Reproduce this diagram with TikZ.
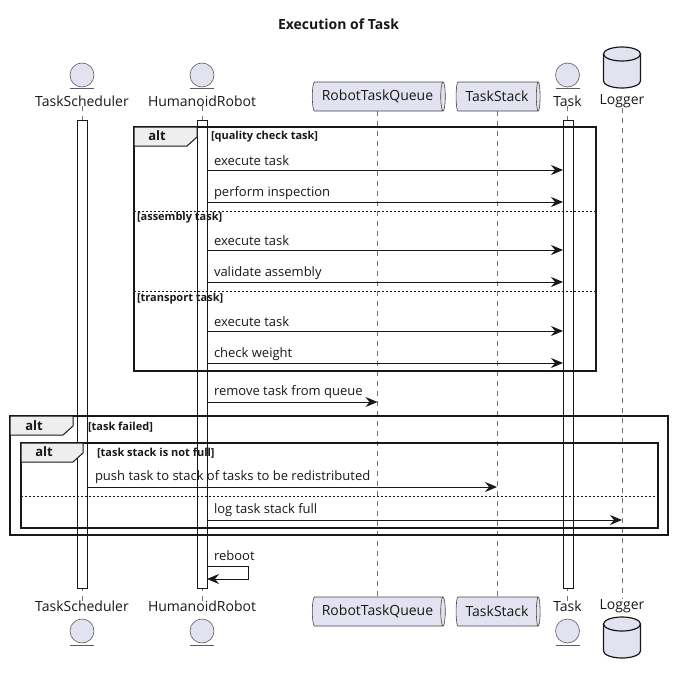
\documentclass[tikz,border=0pt]{standalone}
\usepackage{fontspec}
\setmainfont{Open Sans}
\usetikzlibrary{arrows.meta,shapes.geometric}
\definecolor{pfill}{HTML}{E2E2F0}
\definecolor{ink}{HTML}{181818}
\definecolor{tabfill}{HTML}{EEEEEE}
\definecolor{lifegray}{HTML}{707070}

\begin{document}
\begin{tikzpicture}[x=1pt,y=-1pt,
  every node/.style={inner sep=0pt, outer sep=0pt},
  pname/.style={font=\fontsize{14}{16}\selectfont, text=ink},
  entity/.style={circle, draw=ink!70, line width=0.6pt, fill=pfill, minimum size=24pt},
  queue/.style={cylinder, shape border rotate=0, aspect=0.35, draw=ink!80, line width=0.6pt,
    cylinder uses custom fill, cylinder body fill=pfill, cylinder end fill=pfill,
    minimum width=29pt, font=\fontsize{14}{16}\selectfont, text=ink},
  lifeline/.style={draw=lifegray, line width=0.6pt, dash pattern=on 5pt off 5pt},
  actbar/.style={draw=ink, fill=white, line width=0.8pt, minimum width=10pt},
  msg/.style={draw=ink, line width=0.9pt, -{Stealth[length=12pt,width=10pt,inset=4pt]}},
  msgtxt/.style={anchor=west, font=\fontsize{13}{15}\selectfont, text=ink},
  frame/.style={draw=ink, line width=1.5pt},
  tab/.style={draw=ink, line width=1pt, fill=tabfill},
  tabtxt/.style={font=\bfseries\fontsize{13}{15}\selectfont, text=ink},
  guard/.style={anchor=west, font=\bfseries\fontsize{11}{13}\selectfont, text=ink},
  sep/.style={draw=ink, line width=0.8pt, dash pattern=on 2pt off 2pt},
  db/.pic={
    \path[fill=pfill, draw=ink, line width=1.2pt]
      (-18.5,7) -- (-18.5,34) arc[start angle=180,end angle=360,x radius=18.5pt,y radius=7pt]
      -- (18.5,7) arc[start angle=0,end angle=180,x radius=18.5pt,y radius=7pt] -- cycle;
    \draw[ink, line width=1.2pt] (-18.5,7) arc[start angle=180,end angle=360,x radius=18.5pt,y radius=7pt];
  }]

\useasboundingbox (0,0) rectangle (673,677);

% title
\node[font=\bfseries\fontsize{14}{16}\selectfont, text=ink] (title) at (338.5,24) {Execution of Task};

% participants, top row
\node[entity] (tsIconTop) at (82,75) {};
\draw[ink!70, line width=0.8pt] (70,88) -- (94,88);
\node[pname] (tsTop) at (82,101) {TaskScheduler};

\node[entity] (hrIconTop) at (202,75) {};
\draw[ink!70, line width=0.8pt] (190,88) -- (214,88);
\node[pname] (hrTop) at (202,101) {HumanoidRobot};

\node[queue, minimum height=133pt] (rtqTop) at (377.5,96.5) {RobotTaskQueue\hspace{6pt}};
\node[queue, minimum height=84pt] (tstTop) at (497,96.5) {TaskStack\hspace{6pt}};

\node[entity] (taskIconTop) at (567.5,75) {};
\draw[ink!70, line width=0.8pt] (555.5,88) -- (579.5,88);
\node[pname] (taskTop) at (567.5,101) {Task};

\pic at (622,47) {db};
\node[pname] (logTop) at (622,101) {Logger};

% participants, bottom row
\node[pname] (tsBot) at (82,606) {TaskScheduler};
\node[entity] (tsIconBot) at (82,631) {};
\draw[ink!70, line width=0.8pt] (70,645) -- (94,645);

\node[pname] (hrBot) at (202,606) {HumanoidRobot};
\node[entity] (hrIconBot) at (202,631) {};
\draw[ink!70, line width=0.8pt] (190,645) -- (214,645);

\node[queue, minimum height=133pt] (rtqBot) at (377.5,611.5) {RobotTaskQueue\hspace{6pt}};
\node[queue, minimum height=84pt] (tstBot) at (497,611.5) {TaskStack\hspace{6pt}};

\node[pname] (taskBot) at (567.5,606) {Task};
\node[entity] (taskIconBot) at (567.5,631) {};
\draw[ink!70, line width=0.8pt] (555.5,645) -- (579.5,645);

\node[pname] (logBot) at (622,606) {Logger};
\pic at (622,617) {db};

% lifelines
\draw[lifeline] (tsTop.south) -- (tsBot.north);
\draw[lifeline] (hrTop.south) -- (hrBot.north);
\draw[lifeline] (rtqTop.south) -- (rtqBot.north);
\draw[lifeline] (tstTop.south) -- (tstBot.north);
\draw[lifeline] (taskTop.south) -- (taskBot.north);
\draw[lifeline] (logTop.south) -- (logBot.north);

% activations
\node[actbar, minimum height=468pt] (tsBar) at (82,354) {};
\node[actbar, minimum height=468pt] (hrBar) at (202,354) {};
\node[actbar, minimum height=468pt] (taskBar) at (568,354) {};

% first alt fragment
\draw[frame] (134,127) rectangle (596,371);
\draw[tab] (134,127) -- (197,127) -- (197,137) -- (187,146) -- (134,146) -- cycle;
\node[tabtxt] (alt1) at (157,136) {alt};
\node[guard] (g1) at (211,137) {[quality check task]};
\draw[sep] (134,211) -- (596,211);
\node[guard] (g2) at (137,218) {[assembly task]};
\draw[sep] (134,291) -- (596,291);
\node[guard] (g3) at (137,299) {[transport task]};

\draw[msg] (hrBar.east |- 0,170) -- (taskBar.west |- 0,170);
\node[msgtxt] (m1) at (214,161) {execute task};
\draw[msg] (hrBar.east |- 0,202) -- (taskBar.west |- 0,202);
\node[msgtxt] (m2) at (214,193) {perform inspection};
\draw[msg] (hrBar.east |- 0,250) -- (taskBar.west |- 0,250);
\node[msgtxt] (m3) at (214,241) {execute task};
\draw[msg] (hrBar.east |- 0,282) -- (taskBar.west |- 0,282);
\node[msgtxt] (m4) at (214,273) {validate assembly};
\draw[msg] (hrBar.east |- 0,331) -- (taskBar.west |- 0,331);
\node[msgtxt] (m5) at (214,322) {execute task};
\draw[msg] (hrBar.east |- 0,363) -- (taskBar.west |- 0,363);
\node[msgtxt] (m6) at (214,354) {check weight};

\draw[msg] (hrBar.east |- 0,402) -- (rtqTop.south |- 0,402);
\node[msgtxt] (m7) at (214,392) {remove task from queue};

% nested alt fragments
\draw[frame] (10,416) rectangle (668,535);
\draw[tab] (10,416) -- (73,416) -- (73,426) -- (63,435) -- (10,435) -- cycle;
\node[tabtxt] (alt2) at (34,426) {alt};
\node[guard] (g4) at (88,427) {[task failed]};

\draw[frame] (21,443) rectangle (658,528);
\draw[tab] (21,443) -- (83,443) -- (83,453) -- (73,462) -- (21,462) -- cycle;
\node[tabtxt] (alt3) at (44,452) {alt};
\node[guard] (g5) at (97,453) {[task stack is not full]};
\draw[sep] (21,496) -- (658,496);

\draw[msg] (tsBar.east |- 0,487) -- (tstTop.south |- 0,487);
\node[msgtxt] (m8) at (95,477) {push task to stack of tasks to be redistributed};
\draw[msg] (hrBar.east |- 0,520) -- (logTop.south |- 0,520);
\node[msgtxt] (m9) at (214,510) {log task stack full};

% self call
\coordinate (rebootTurn) at (248,566);
\draw[msg] (hrBar.east |- 0,566) -- (rebootTurn) -- (rebootTurn |- 0,579) -- (hrBar.east |- 0,579);
\node[msgtxt] (m10) at (214,556) {reboot};

\end{tikzpicture}
\end{document}
